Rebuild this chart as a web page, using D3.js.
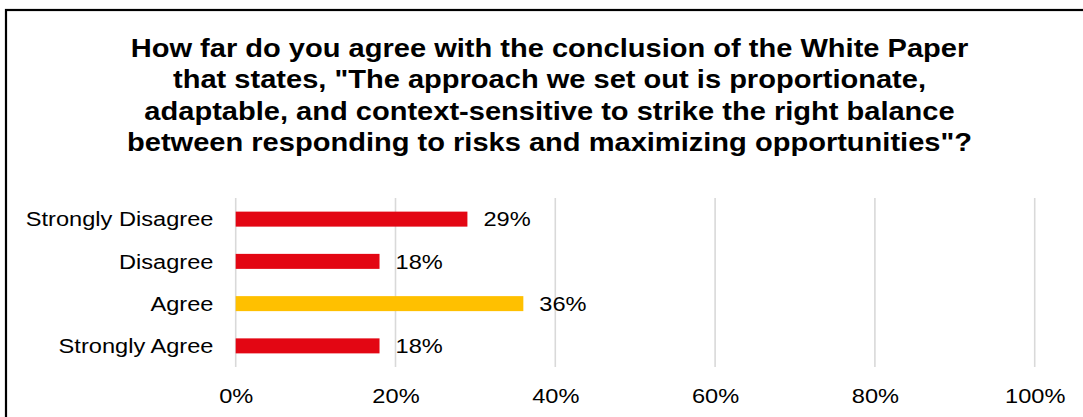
<!DOCTYPE html>
<html>
<head>
<meta charset="utf-8">
<script src="https://cdn.jsdelivr.net/npm/d3@7"></script>
<style>
  html, body { margin: 0; padding: 0; background: #ffffff; }
  svg { display: block; }
  text { font-family: "Liberation Sans", Arial, sans-serif; fill: #000000; }
</style>
</head>
<body>
<svg id="chart" width="1083" height="417"></svg>
<script>
// Survey responses (percent of respondents)
const categories = ["Strongly Disagree", "Disagree", "Agree", "Strongly Agree"];
const values = [29, 18, 36, 18];
const barColors = ["#e30613", "#e30613", "#ffc000", "#e30613"];
const xTicks = [0, 20, 40, 60, 80, 100];
const titleLines = [
  "How far do you agree with the conclusion of the White Paper",
  "that states, \"The approach we set out is proportionate,",
  "adaptable, and context-sensitive to strike the right balance",
  "between responding to risks and maximizing opportunities\"?"
];

const W = 1083, H = 417;
const stretch = 1.125;            // glyphs are drawn slightly wide
const svg = d3.select("#chart");

// outer frame (clipped by the page edge on the right and bottom)
svg.append("rect")
  .attr("x", 6).attr("y", 10)
  .attr("width", W + 20).attr("height", H + 20)
  .attr("fill", "#ffffff")
  .attr("stroke", "#000000")
  .attr("stroke-width", 2.2);

// title
const titleSize = 25.6;
svg.append("g").selectAll("text")
  .data(titleLines)
  .join("text")
  .attr("transform", (d, i) => `translate(549.5,${56.6 + i * 31.6}) scale(${stretch + 0.01},1)`)
  .attr("text-anchor", "middle")
  .attr("font-weight", "bold")
  .attr("font-size", titleSize)
  .text(d => d);

// scales
const x = d3.scaleLinear().domain([0, 100]).range([235.7, 1034.7]);
const y = d3.scaleBand()
  .domain(categories)
  .range([198, 367])
  .paddingInner(0.645)
  .paddingOuter(0.3225);

// vertical gridlines
svg.append("g").selectAll("line")
  .data(xTicks)
  .join("line")
  .attr("x1", d => x(d)).attr("x2", d => x(d))
  .attr("y1", 198).attr("y2", 367)
  .attr("stroke", "#d9d9d9")
  .attr("stroke-width", 1.6);

// x axis labels
const xAxis = d3.axisBottom(x)
  .tickValues(xTicks)
  .tickFormat(d => d + "%")
  .tickSize(0)
  .tickPadding(0);
const gx = svg.append("g").attr("transform", "translate(0,387)").call(xAxis);
gx.select(".domain").remove();
gx.selectAll("text")
  .attr("font-size", 21)
  .attr("font-family", "Liberation Sans, Arial, sans-serif")
  .attr("fill", "#000000")
  .attr("dy", "0")
  .attr("y", 16.2)
  .attr("transform", function () {
    const t = d3.select(this.parentNode);
    return `scale(${stretch},1)`;
  })
  .attr("x", 0);
// keep each tick label centred on its tick while stretched
gx.selectAll(".tick").each(function () {
  d3.select(this).select("text").attr("transform", `scale(${stretch},1)`);
});

// y axis category labels
const yAxis = d3.axisLeft(y).tickSize(0).tickPadding(0);
const gy = svg.append("g").attr("transform", "translate(213.5,0)").call(yAxis);
gy.select(".domain").remove();
gy.selectAll("text")
  .attr("font-size", 21)
  .attr("font-family", "Liberation Sans, Arial, sans-serif")
  .attr("fill", "#000000")
  .attr("x", 0)
  .attr("dy", "0.35em")
  .attr("transform", `scale(${stretch},1)`);

// bars
svg.append("g").selectAll("rect")
  .data(categories)
  .join("rect")
  .attr("x", x(0))
  .attr("y", d => y(d))
  .attr("width", (d, i) => x(values[i]) - x(0))
  .attr("height", y.bandwidth())
  .attr("fill", (d, i) => barColors[i]);

// value labels
svg.append("g").selectAll("text")
  .data(categories)
  .join("text")
  .attr("transform", (d, i) =>
    `translate(${x(values[i]) + 16},${y(d) + y.bandwidth() / 2}) scale(${stretch},1)`)
  .attr("dy", "0.35em")
  .attr("font-size", 21)
  .text((d, i) => values[i] + "%");
</script>
</body>
</html>
